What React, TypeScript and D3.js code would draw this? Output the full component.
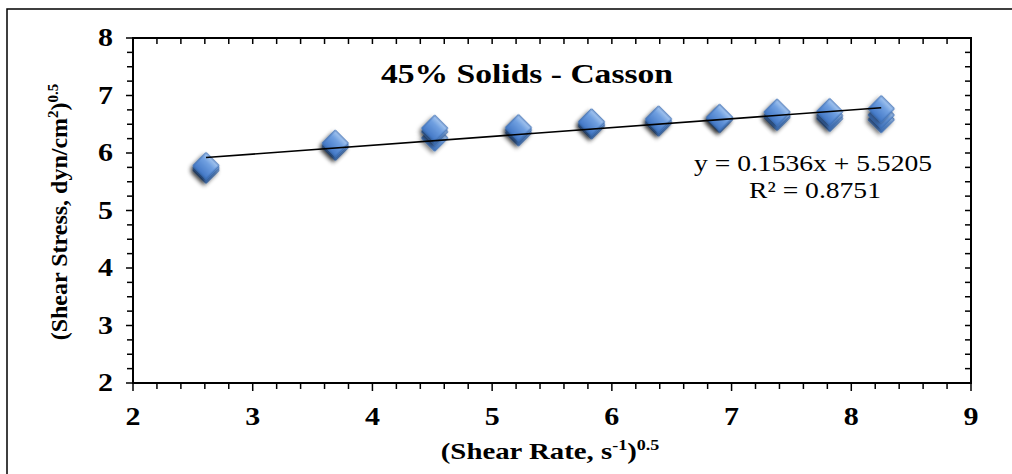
import React from 'react'
import * as d3 from 'd3'

// sqrt of shear rate (s^-1)^0.5
const shearRate = [2.61, 3.69, 4.52, 5.22, 5.83, 6.39, 6.9, 7.38, 7.82, 8.25]
// sqrt of shear stress, three replicate runs
const runA = [5.7, 6.1, 6.26, 6.35, 6.47, 6.52, 6.58, 6.62, 6.6, 6.58]
const runB = [5.74, 6.13, 6.37, 6.4, 6.5, 6.55, 6.6, 6.65, 6.65, 6.66]
const runC = [5.78, 6.17, 6.43, 6.44, 6.54, 6.59, 6.62, 6.71, 6.72, 6.77]

const fitSlope = 0.1536
const fitIntercept = 5.5205
const rSquared = 0.8751

const xTicks = [2, 3, 4, 5, 6, 7, 8, 9]
const yTicks = [2, 3, 4, 5, 6, 7, 8]

const W = 1012
const H = 474
const STRETCH = 1.2 // original picture is horizontally stretched
const FONT = '"Liberation Serif", "Times New Roman", serif'

function App() {
  const svgRef = React.useRef<SVGSVGElement>(null)

  React.useEffect(() => {
    const svg = d3.select(svgRef.current)
    svg.selectAll('*').remove()

    const margin = { left: 133, right: W - 971, top: 38, bottom: H - 383 }

    const x = d3.scaleLinear().domain([2, 9]).range([margin.left, W - margin.right])
    const y = d3.scaleLinear().domain([2, 8]).range([H - margin.bottom, margin.top])

    // marker gradient + shadow
    const defs = svg.append('defs')
    const grad = defs
      .append('linearGradient')
      .attr('id', 'dia')
      .attr('x1', 0)
      .attr('y1', 0)
      .attr('x2', 0)
      .attr('y2', 1)
    grad.append('stop').attr('offset', '0%').attr('stop-color', '#a9c8f0')
    grad.append('stop').attr('offset', '35%').attr('stop-color', '#6f9fe0')
    grad.append('stop').attr('offset', '100%').attr('stop-color', '#4378c6')
    const shadow = defs
      .append('filter')
      .attr('id', 'shadow')
      .attr('x', '-50%')
      .attr('y', '-50%')
      .attr('width', '200%')
      .attr('height', '200%')
    shadow
      .append('feDropShadow')
      .attr('dx', 0)
      .attr('dy', 3)
      .attr('stdDeviation', 2)
      .attr('flood-color', '#000')
      .attr('flood-opacity', 0.45)

    // outer frame (runs off right / bottom)
    svg
      .append('rect')
      .attr('x', 7)
      .attr('y', 9)
      .attr('width', W + 20)
      .attr('height', H + 20)
      .attr('fill', 'white')
      .attr('stroke', 'black')
      .attr('stroke-width', 1.5)

    // ticks
    const x0 = x.range()[0]
    const x1 = x.range()[1]
    const y0 = y.range()[0]
    const y1 = y.range()[1]
    const tickG = svg.append('g').attr('stroke', 'black').attr('stroke-width', 1.5)
    const xMinor = d3.range(0, 36).map((i) => 2 + i * 0.2)
    const yMinor = d3.range(0, 25).map((i) => 2 + i * 0.25)
    xMinor.forEach((v) => {
      const major = Math.abs(v - Math.round(v)) < 1e-6
      tickG.append('line').attr('x1', x(v)).attr('x2', x(v)).attr('y1', y0).attr('y2', y0 + (major ? 8 : 6))
      tickG.append('line').attr('x1', x(v)).attr('x2', x(v)).attr('y1', y1).attr('y2', y1 + 6)
    })
    yMinor.forEach((v) => {
      const major = Math.abs(v - Math.round(v)) < 1e-6
      tickG.append('line').attr('y1', y(v)).attr('y2', y(v)).attr('x1', x0).attr('x2', x0 - (major ? 7 : 6))
      tickG.append('line').attr('y1', y(v)).attr('y2', y(v)).attr('x1', x1).attr('x2', x1 - 6)
    })

    // plot box
    svg
      .append('rect')
      .attr('x', x0)
      .attr('y', y1)
      .attr('width', x1 - x0)
      .attr('height', y0 - y1)
      .attr('fill', 'none')
      .attr('stroke', 'black')
      .attr('stroke-width', 2)

    // helper for stretched text
    const label = (tx: number, ty: number, size: number, weight: string, anchor: string, sx = STRETCH, rotate = 0) =>
      svg
        .append('text')
        .attr('transform', `translate(${tx},${ty}) scale(${sx},1) rotate(${rotate})`)
        .attr('font-family', FONT)
        .attr('font-size', size)
        .attr('font-weight', weight)
        .attr('text-anchor', anchor)
        .attr('fill', 'black')

    xTicks.forEach((t) => label(x(t), 425, 25, 'bold', 'middle').text(t))
    yTicks.forEach((t) => label(113, y(t) + 8, 25, 'bold', 'end').text(t))

    // markers
    const rows = shearRate.flatMap((sr, i) => [
      { x: sr, y: runA[i] },
      { x: sr, y: runB[i] },
      { x: sr, y: runC[i] },
    ])
    const diamond = d3.symbol().type(d3.symbolSquare).size(340)
    svg
      .append('g')
      .selectAll('path')
      .data(rows)
      .enter()
      .append('path')
      .attr('d', diamond)
      .attr('transform', (d) => `translate(${x(d.x)},${y(d.y)}) rotate(45)`)
      .attr('fill', 'url(#dia)')
      .attr('stroke', '#3d6fb6')
      .attr('stroke-width', 1)
      .attr('filter', 'url(#shadow)')

    // linear trendline
    const fitX = d3.extent(shearRate) as [number, number]
    svg
      .append('line')
      .attr('x1', x(fitX[0]))
      .attr('x2', x(fitX[1]))
      .attr('y1', y(fitSlope * fitX[0] + fitIntercept))
      .attr('y2', y(fitSlope * fitX[1] + fitIntercept))
      .attr('stroke', 'black')
      .attr('stroke-width', 1.6)

    // title + equation
    label(527, 83, 28, 'bold', 'middle').text('45% Solids - Casson')
    label(813, 171, 23, 'normal', 'middle').text(`y = ${fitSlope}x + ${fitIntercept}`)
    label(815, 198, 23, 'normal', 'middle').text(`R² = ${rSquared}`)

    // axis titles
    const xt = label(550, 459, 24, 'bold', 'middle')
    xt.append('tspan').text('(Shear Rate, s')
    xt.append('tspan').attr('font-size', 15).attr('dy', -9).text('-1')
    xt.append('tspan').attr('dy', 9).text(')')
    xt.append('tspan').attr('font-size', 15).attr('dy', -9).text('0.5')

    const yt = label(67, 212, 24, 'bold', 'middle', 1, -90)
    yt.append('tspan').text('(Shear Stress, dyn/cm')
    yt.append('tspan').attr('font-size', 15).attr('dy', -9).text('2')
    yt.append('tspan').attr('dy', 9).text(')')
    yt.append('tspan').attr('font-size', 15).attr('dy', -9).text('0.5')
  }, [])

  return (
    <svg
      ref={svgRef}
      width={W}
      height={H}
      style={{ position: 'absolute', left: 0, top: 0, background: 'white' }}
    ></svg>
  )
}

export default App
